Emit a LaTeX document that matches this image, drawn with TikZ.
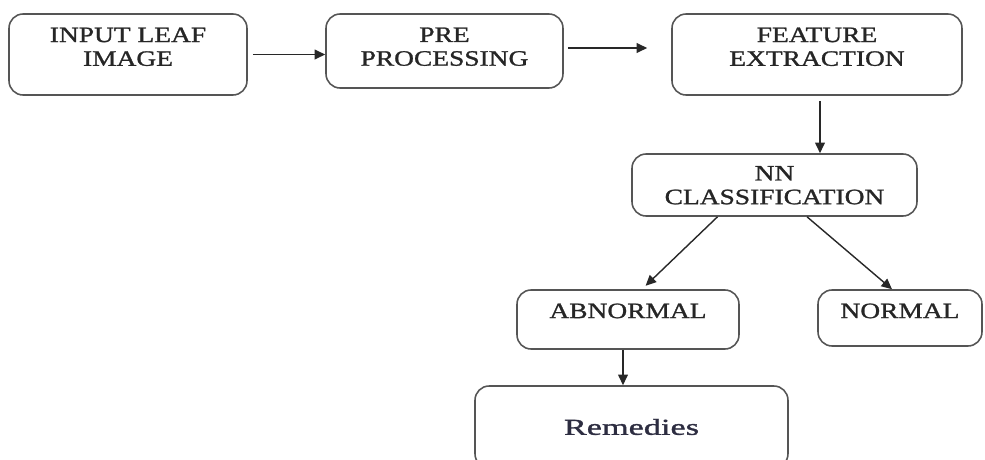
\documentclass[tikz,border=0pt]{standalone}
\usepackage{fontspec}
\setmainfont{Liberation Serif}[FakeStretch=1.25, FakeBold=1.2]
\newfontfamily\remfont{Liberation Serif}[FakeStretch=1.5, FakeBold=1.4]
\usetikzlibrary{arrows.meta,positioning}
\definecolor{boxgray}{RGB}{85,85,85}
\definecolor{arrowgray}{RGB}{40,40,40}
\definecolor{remtext}{RGB}{45,45,65}
\tikzset{
  stage/.style={draw=boxgray, line width=0.9pt, rounded corners=8pt, inner sep=0pt},
  stagetext/.style={anchor=north, align=center, inner sep=0pt, yshift=-0.28cm, font=\fontsize{12.5}{13.5}\selectfont, text=black!85},
  flow/.style={draw=arrowgray, line width=0.8pt, -{Triangle[length=6pt,width=5.5pt]}}
}

\begin{document}
\begin{tikzpicture}[x=0.02cm,y=-0.02cm]
  \useasboundingbox (0,0) rectangle (985,460);

  \node[stage, minimum width=4.76cm, minimum height=1.62cm, label={[stagetext]north:{INPUT LEAF\\IMAGE}}] (input) at (128,54.5) {};
  \node[stage, minimum width=4.74cm, minimum height=1.48cm, label={[stagetext]north:{PRE\\PROCESSING}}] (prep) at (444.5,51) {};
  \node[stage, minimum width=5.8cm, minimum height=1.62cm, label={[stagetext]north:{FEATURE\\EXTRACTION}}] (feat) at (817,54.5) {};
  \node[stage, minimum width=5.7cm, minimum height=1.24cm, label={[stagetext, yshift=0.03cm]north:{NN\\CLASSIFICATION}}] (nncls) at (774.5,185) {};
  \node[stage, minimum width=4.44cm, minimum height=1.18cm, label={[stagetext]north:{ABNORMAL}}] (abnorm) at (628,319.5) {};
  \node[stage, minimum width=3.28cm, minimum height=1.12cm, label={[stagetext]north:{NORMAL}}] (norm) at (900,318) {};
  \node[stage, minimum width=6.26cm, minimum height=1.64cm, font=\remfont\fontsize{13}{15}\selectfont, text=remtext] (remedy) at (631.5,427) {Remedies};

  \draw[flow, shorten <=0.1cm] (input.east) -- (input.east -| prep.west);
  \draw[flow, shorten <=0.08cm, shorten >=0.48cm] ([yshift=0.06cm]prep.east) -- ([yshift=0.06cm]prep.east -| feat.west);
  \draw[flow, shorten <=0.1cm] ([xshift=0.06cm]feat.south) -- ([xshift=0.06cm]feat.south |- nncls.north);
  \draw[flow, shorten >=0.1cm] ([xshift=-1.14cm]nncls.south) -- ([xshift=0.28cm]abnorm.north);
  \draw[flow] ([xshift=0.65cm]nncls.south) -- ([xshift=-0.16cm]norm.north);
  \draw[flow] ([xshift=-0.1cm]abnorm.south) -- ([xshift=-0.1cm]abnorm.south |- remedy.north);
\end{tikzpicture}
\end{document}
